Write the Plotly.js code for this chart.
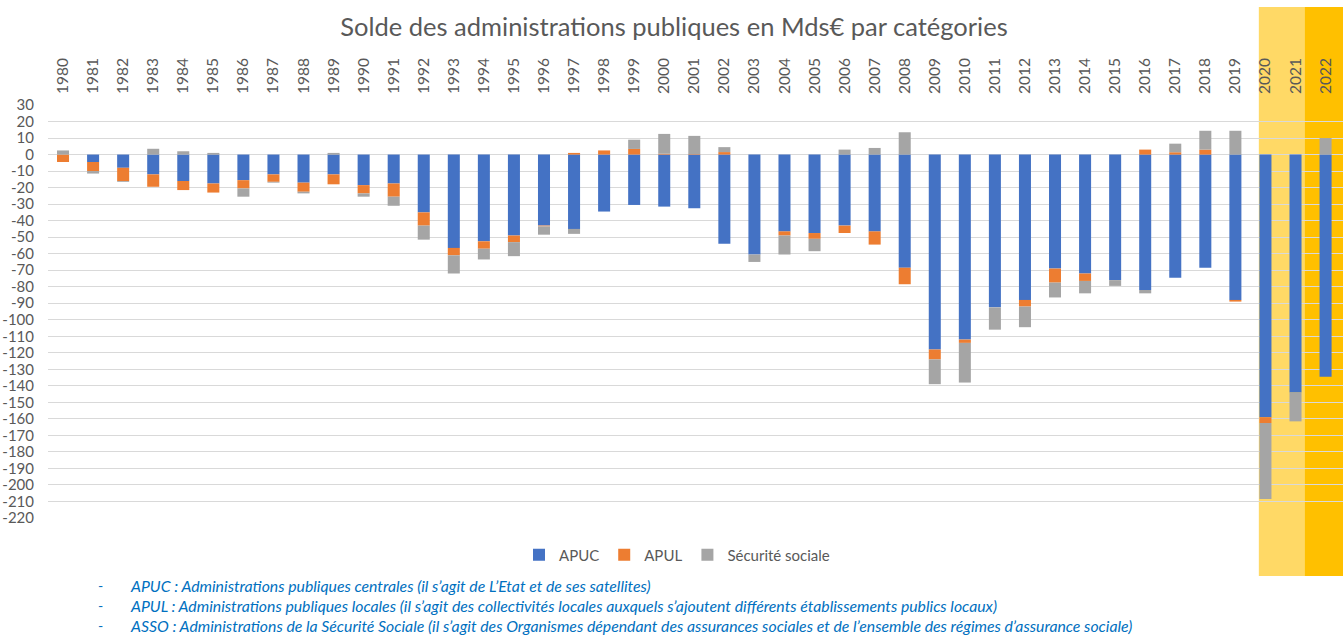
<!DOCTYPE html>
<html>
<head>
<meta charset="utf-8">
<script src="https://cdn.plot.ly/plotly-3.0.1.min.js"></script>
<style>
html,body{margin:0;padding:0;background:#fff;}
#chart{width:1343px;height:637px;}
</style>
</head>
<body>
<div id="chart"></div>
<script>
const years = ["1980","1981","1982","1983","1984","1985","1986","1987","1988","1989","1990","1991","1992","1993","1994","1995","1996","1997","1998","1999","2000","2001","2002","2003","2004","2005","2006","2007","2008","2009","2010","2011","2012","2013","2014","2015","2016","2017","2018","2019","2020","2021","2022"];

const apuc = [0,-4.5,-8,-12,-16,-17.5,-15.5,-12,-17,-12,-18.5,-17.5,-35,-56.5,-52.5,-49,-43,-45,-34.5,-30.5,-31.5,-32.5,-54,-60.5,-46.5,-47.5,-43,-46.5,-68.5,-118,-112,-92.5,-88,-69,-72,-76,-82,-74.5,-68.5,-88,-159,-144,-134.5];

const apul = [-4.5,-5.5,-8,-7.5,-5.5,-5.5,-5,-4.5,-5.5,-6,-5,-8,-8,-4.5,-4.5,-4,-0.5,1,2.5,3.4,0.5,0.3,1.5,0,-2.5,-3.5,-4.5,-8,-10,-6,-2,0,-4,-8.5,-4.5,0,3,1.4,3,-1,-3.5,0,0];

const secu = [2.5,-1.5,-0.5,3.5,2,1,-5,-0.5,-1,1,-2,-5.5,-8.5,-11,-6.5,-8.5,-5,-3,0,5.6,12,11,3,-4.5,-11.5,-7.5,3,4,13.5,-15,-24,-13.5,-12.5,-9,-7.5,-3.5,-2,5.2,11.4,14.4,-46,-17.5,10];

const seriesNames = ["APUC","APUL","Sécurité sociale"];
const seriesColors = ["#4472C4","#ED7D31","#A5A5A5"];

const yTicks = [30,20,10,0,-10,-20,-30,-40,-50,-60,-70,-80,-90,-100,-110,-120,-130,-140,-150,-160,-170,-180,-190,-200,-210,-220];

const notes = [
  "APUC : Administrations publiques centrales (il s\u2019agit de L\u2019Etat et de ses satellites)",
  "APUL : Administrations publiques locales (il s\u2019agit des collectivités locales auxquels s\u2019ajoutent différents établissements publics locaux)",
  "ASSO : Administrations de la Sécurité Sociale (il s\u2019agit des Organismes dépendant des assurances sociales et de l\u2019ensemble des régimes d\u2019assurance sociale)"
];

const W = 1343, H = 637;
const mL = 48, mR = 0, mT = 105, mB = 119;
const plotH = H - mT - mB;
const plotW = W - mL - mR;
const py = (pix) => (H - mB - pix) / plotH;   // pixel row -> paper y
const px = (pix) => (pix - mL) / plotW;       // pixel column -> paper x

const font = "Lato, 'Open Sans', sans-serif";
const grey = "#595959";

const traces = [apuc, apul, secu].map((vals, i) => ({
  type: "bar",
  name: seriesNames[i],
  x: years,
  y: vals,
  marker: {color: seriesColors[i], line: {width: 0}},
  hoverinfo: "x+y+name"
}));

const shapes = [
  {type:"rect", layer:"below", xref:"x", yref:"paper", x0:39.78, x1:41.3, y0:py(576), y1:py(7), fillcolor:"#FFD966", line:{width:0}},
  {type:"rect", layer:"below", xref:"x", yref:"paper", x0:41.3, x1:42.6, y0:py(576), y1:py(7), fillcolor:"#FFC000", line:{width:0}}
];

const annotations = [];
notes.forEach((t, i) => {
  const yy = py(585 + i * 20);
  annotations.push({xref:"paper", yref:"paper", x:px(96), y:yy, xanchor:"left", yanchor:"middle", text:"-", showarrow:false, font:{family:font, size:14, color:"#0070C0"}});
  annotations.push({xref:"paper", yref:"paper", x:px(128), y:yy, xanchor:"left", yanchor:"middle", text:"<i>"+t+"</i>", showarrow:false, font:{family:font, size:15.8, color:"#0070C0"}});
});

const layout = {
  width: W, height: H,
  margin: {l: mL, r: mR, t: mT, b: mB, pad: 0},
  paper_bgcolor: "#ffffff",
  plot_bgcolor: "rgba(0,0,0,0)",
  barmode: "relative",
  bargap: 0.6,
  title: {text: "Solde des administrations publiques en Mds€ par catégories", x: 674/W, xanchor:"center", y: 1 - 27/H, yanchor:"middle", yref:"container", font:{family:font, size:25.5, color:grey}},
  xaxis: {
    type: "category", side: "top", range: [-0.5, 42.58],
    tickangle: -90, tickfont: {family: font, size: 15.5, color: grey},
    showgrid: false, zeroline: false, showline: false, ticks: "",
    ticklabelstandoff: 10, fixedrange: true
  },
  yaxis: {
    range: [-220, 30], tickvals: yTicks, ticktext: yTicks.map(String),
    tickfont: {family: font, size: 15, color: grey},
    showgrid: true, gridcolor: "#D9D9D9", gridwidth: 1,
    zeroline: false, showline: false, ticks: "",
    ticklabelstandoff: 13, fixedrange: true
  },
  showlegend: true,
  legend: {orientation: "h", x: px(677), xanchor: "center", y: py(555), yanchor: "middle", font: {family: font, size: 15, color: grey}, itemwidth: 30, traceorder: "normal", bgcolor:"rgba(0,0,0,0)"},
  shapes: shapes,
  annotations: annotations
};

Plotly.newPlot("chart", traces, layout, {displayModeBar: false, staticPlot: true});
</script>
</body>
</html>
